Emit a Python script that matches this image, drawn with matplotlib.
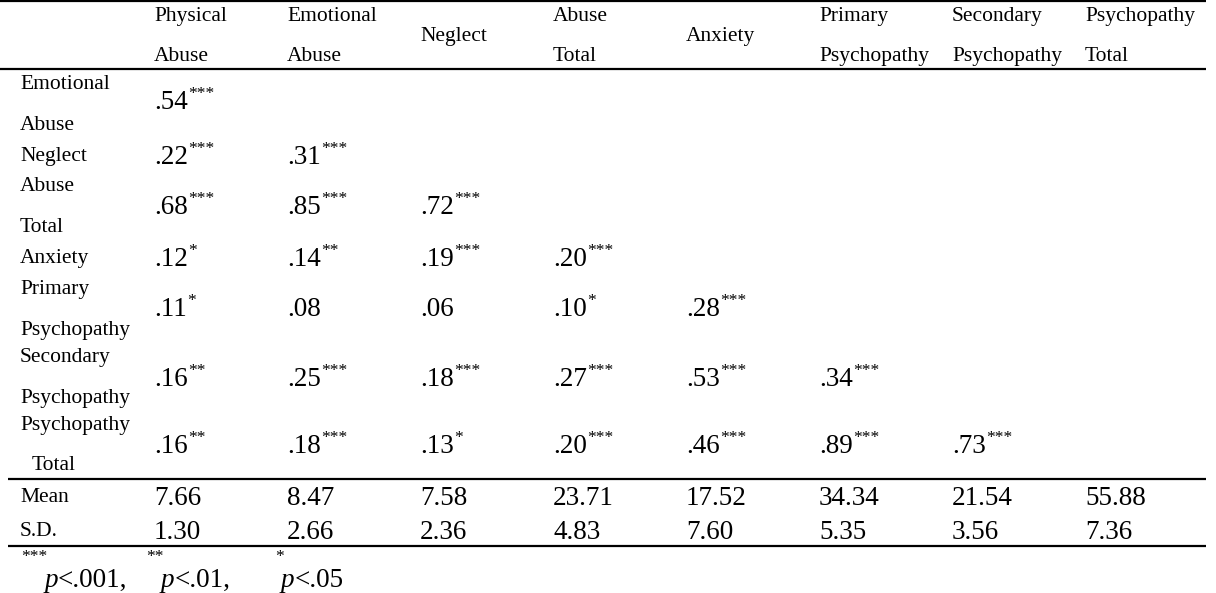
import matplotlib.pyplot as plt

plt.rcParams['font.family'] = ['Liberation Serif', 'DejaVu Serif']

# column headers (two lines each, "" means single centred line)
col_top = ['Physical', 'Emotional', 'Neglect', 'Abuse', 'Anxiety', 'Primary', 'Secondary', 'Psychopathy']
col_bot = ['Abuse', 'Abuse', '', 'Total', '', 'Psychopathy', 'Psychopathy', 'Total']

row_labels = [['Emotional', 'Abuse'], ['Neglect'], ['Abuse', 'Total'], ['Anxiety'],
              ['Primary', 'Psychopathy'], ['Secondary', 'Psychopathy'], ['Psychopathy', 'Total']]

corr = [
    [.54],
    [.22, .31],
    [.68, .85, .72],
    [.12, .14, .19, .20],
    [.11, .08, .06, .10, .28],
    [.16, .25, .18, .27, .53, .34],
    [.16, .18, .13, .20, .46, .89, .73],
]
sig = [
    ['***'],
    ['***', '***'],
    ['***', '***', '***'],
    ['*', '**', '***', '***'],
    ['*', '', '', '*', '***'],
    ['**', '***', '***', '***', '***', '***'],
    ['**', '***', '*', '***', '***', '***', '***'],
]

means = [7.66, 8.47, 7.58, 23.71, 17.52, 34.34, 21.54, 55.88]
sds = [1.30, 2.66, 2.36, 4.83, 7.60, 5.35, 3.56, 7.36]

# layout (pixels)
W, H = 1216, 593
col_x = [154 + 133 * i for i in range(8)]
label_y = [[83, 124], [155], [185, 226], [257], [288, 329], [356, 397], [424, 464]]
value_y = [100, 155, 205, 257, 307, 377, 444]
label_fs = 15.5
value_fs = 19.5
star_fs = 12.5

fig = plt.figure(figsize=(W / 100, H / 100), dpi=100)
ax = fig.add_axes([0, 0, 1, 1])
ax.set_xlim(0, W)
ax.set_ylim(H, 0)
ax.axis('off')

# rules
ax.hlines([1, 69], 0, 1206, color='black', lw=1.6)
ax.hlines([479, 546], 8, 1206, color='black', lw=1.6)

# header
for x, t, b in zip(col_x, col_top, col_bot):
    if b:
        ax.text(x, 21, t, fontsize=label_fs, va='baseline')
        ax.text(x, 61, b, fontsize=label_fs, va='baseline')
    else:
        ax.text(x, 41, t, fontsize=label_fs, va='baseline')

# body
for i, (labels, ys) in enumerate(zip(row_labels, label_y)):
    for j, (lab, y) in enumerate(zip(labels, ys)):
        lx = 32 if (lab == 'Total' and i == len(row_labels) - 1) else 20
        ax.text(lx, y + 6, lab, fontsize=label_fs, va='baseline')
    for k, (r, s) in enumerate(zip(corr[i], sig[i])):
        txt = ax.text(col_x[k], value_y[i] + 9, f'{r:.2f}'.lstrip('0'),
                      fontsize=value_fs, va='baseline')
        if s:
            ax.annotate(s, xy=(1, 1), xycoords=txt, xytext=(0, 3),
                        textcoords='offset points', fontsize=star_fs, va='top')

# mean / sd
ax.text(20, 496 + 6, 'Mean', fontsize=label_fs, va='baseline')
ax.text(20, 530 + 6, 'S.D.', fontsize=label_fs, va='baseline')
for x, m, s in zip(col_x, means, sds):
    ax.text(x, 496 + 9, f'{m:.2f}', fontsize=value_fs, va='baseline')
    ax.text(x, 530 + 9, f'{s:.2f}', fontsize=value_fs, va='baseline')

# footnote
notes = [('***', 'p', '<.001,', 21), ('**', 'p', '<.01,', 146), ('*', 'p', '<.05', 275)]
for stars, p, rest, x in notes:
    st = ax.text(x, 549, stars, fontsize=star_fs, va='top')
    pt = ax.annotate(p, xy=(1, 0), xycoords=st, xytext=(-2, -16), textcoords='offset points',
                     fontsize=value_fs, style='italic', va='baseline')
    ax.annotate(rest, xy=(1, 0), xycoords=pt, xytext=(0, 0), textcoords='offset points',
                fontsize=value_fs, va='bottom')

fig.savefig('out.png', dpi=100)
